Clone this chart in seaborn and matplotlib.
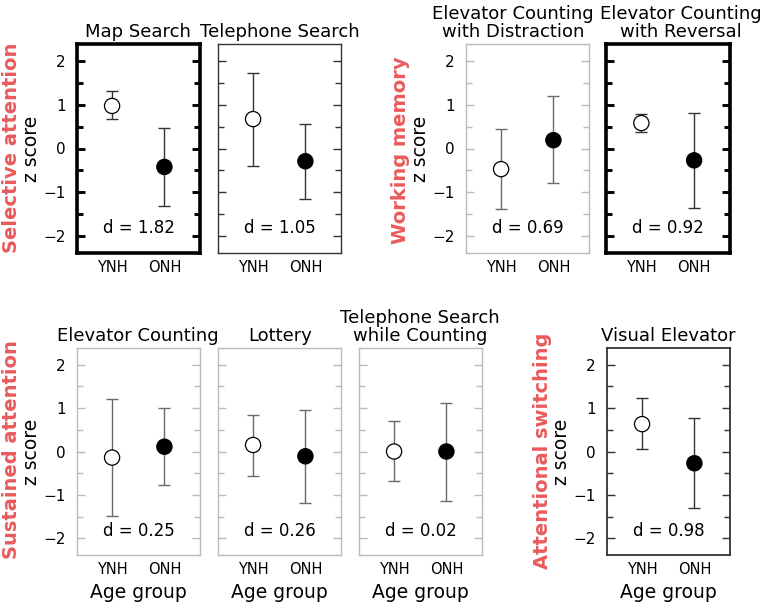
import numpy as np
import pandas as pd
import matplotlib
matplotlib.use("Agg")
import matplotlib.pyplot as plt
import seaborn as sns
from matplotlib.ticker import MultipleLocator

sns.set_style("white")
plt.rcParams['font.family'] = ['DejaVu Sans']
plt.rcParams['text.color'] = 'black'
plt.rcParams['axes.labelcolor'] = 'black'

# data
tasks = ["Map Search", "Telephone Search",
         "Elevator Counting\nwith Distraction", "Elevator Counting\nwith Reversal",
         "Elevator Counting", "Lottery",
         "Telephone Search\nwhile Counting", "Visual Elevator"]
groups = ["YNH", "ONH"]
ynh_mean = [0.97, 0.67, -0.47, 0.58, -0.14, 0.15, 0.00, 0.63]
ynh_lo = [0.67, -0.40, -1.38, 0.37, -1.48, -0.56, -0.68, 0.05]
ynh_hi = [1.30, 1.72, 0.45, 0.79, 1.20, 0.85, 0.69, 1.22]
onh_mean = [-0.42, -0.29, 0.19, -0.27, 0.11, -0.11, 0.00, -0.27]
onh_lo = [-1.30, -1.15, -0.79, -1.35, -0.77, -1.18, -1.13, -1.31]
onh_hi = [0.47, 0.55, 1.20, 0.80, 0.99, 0.96, 1.12, 0.76]
d_values = ["1.82", "1.05", "0.69", "0.92", "0.25", "0.26", "0.02", "0.98"]
domains = ["Selective attention", "Working memory", "Sustained attention", "Attentional switching"]

W, H = 763, 605
fig = plt.figure(figsize=(W / 100, H / 100), dpi=100)

# panel boxes in pixels: left, top, right, bottom
boxes = [(77, 44, 200, 253), (218, 44, 341, 253), (466, 44, 589, 253), (606, 44, 730, 253),
         (77, 348, 200, 555), (218, 348, 341, 555), (359, 348, 482, 555), (607, 348, 730, 555)]
# title centre (x px) for each panel
title_x = [138, 280, 513, 681, 138, 280, 420, 668]
# frame style: colour, width
frames = [("black", 2.6), ("#333333", 1.0), ("#bbbbbb", 1.0), ("black", 2.6),
          ("#bbbbbb", 1.0), ("#bbbbbb", 1.0), ("#bbbbbb", 1.0), ("#333333", 1.3)]
show_y = [True, False, True, False, True, False, False, True]
show_xlab = [False, False, False, False, True, True, True, True]

red = "#ea5a5c"
for i, t in enumerate(tasks):
    l, tp, r, b = boxes[i]
    ax = fig.add_axes([l / W, 1 - b / H, (r - l) / W, (b - tp) / H])
    df = pd.DataFrame({"group": groups,
                       "mean": [ynh_mean[i], onh_mean[i]],
                       "lo": [ynh_lo[i], onh_lo[i]],
                       "hi": [ynh_hi[i], onh_hi[i]]})
    x = np.arange(len(groups))
    col, lw = frames[i]
    ecol = "#6a6a6a" if col == "#bbbbbb" else "#333333"
    ax.errorbar(x, df["mean"], yerr=[df["mean"] - df["lo"], df["hi"] - df["mean"]],
                fmt="none", ecolor=ecol, elinewidth=1.0, capsize=4.5, capthick=1.0, zorder=1)
    sns.scatterplot(x=x, y=df["mean"], hue=df["group"], palette={"YNH": "white", "ONH": "black"},
                    edgecolor="black", linewidth=0.9, s=120, legend=False, zorder=3, ax=ax)
    ax.set_xlim(-0.67, 1.68)
    ax.set_ylim(-2.38, 2.38)
    ax.set_xticks(x)
    ax.set_xticklabels(groups, fontsize=10.5)
    ax.yaxis.set_major_locator(MultipleLocator(1))
    ax.yaxis.set_minor_locator(MultipleLocator(0.5))
    ax.tick_params(axis="y", which="both", direction="in", left=True, right=True,
                   color=col, width=max(lw * 0.8, 1.0), labelsize=11, labelcolor="black", pad=8)
    ax.tick_params(axis="y", which="major", length=6)
    ax.tick_params(axis="y", which="minor", length=4)
    ax.tick_params(axis="x", length=0, pad=5, labelcolor="black")
    if not show_y[i]:
        ax.set_yticklabels([])
        ax.set_ylabel("")
    else:
        ax.set_ylabel("z score", fontsize=13.5, labelpad=2)
    if show_xlab[i]:
        ax.set_xlabel("Age group", fontsize=13.5, labelpad=4)
    else:
        ax.set_xlabel("")
    for s in ax.spines.values():
        s.set_color(col)
        s.set_linewidth(lw)
    fig.text(title_x[i] / W, 1 - (tp - 3) / H, t, ha="center", va="bottom",
             fontsize=13, linespacing=1.0)
    ax.text(0.5, -1.82, "d = " + d_values[i], ha="center", va="center", fontsize=12,
            transform=ax.get_yaxis_transform())

# domain labels
lab_pos = [(12, 148), (401, 150), (12, 450), (543, 451)]
for name, (px, py) in zip(domains, lab_pos):
    fig.text(px / W, 1 - py / H, name, rotation=90, ha="center", va="center",
             color=red, fontsize=14, fontweight="bold")

fig.savefig("out.png", dpi=100)
